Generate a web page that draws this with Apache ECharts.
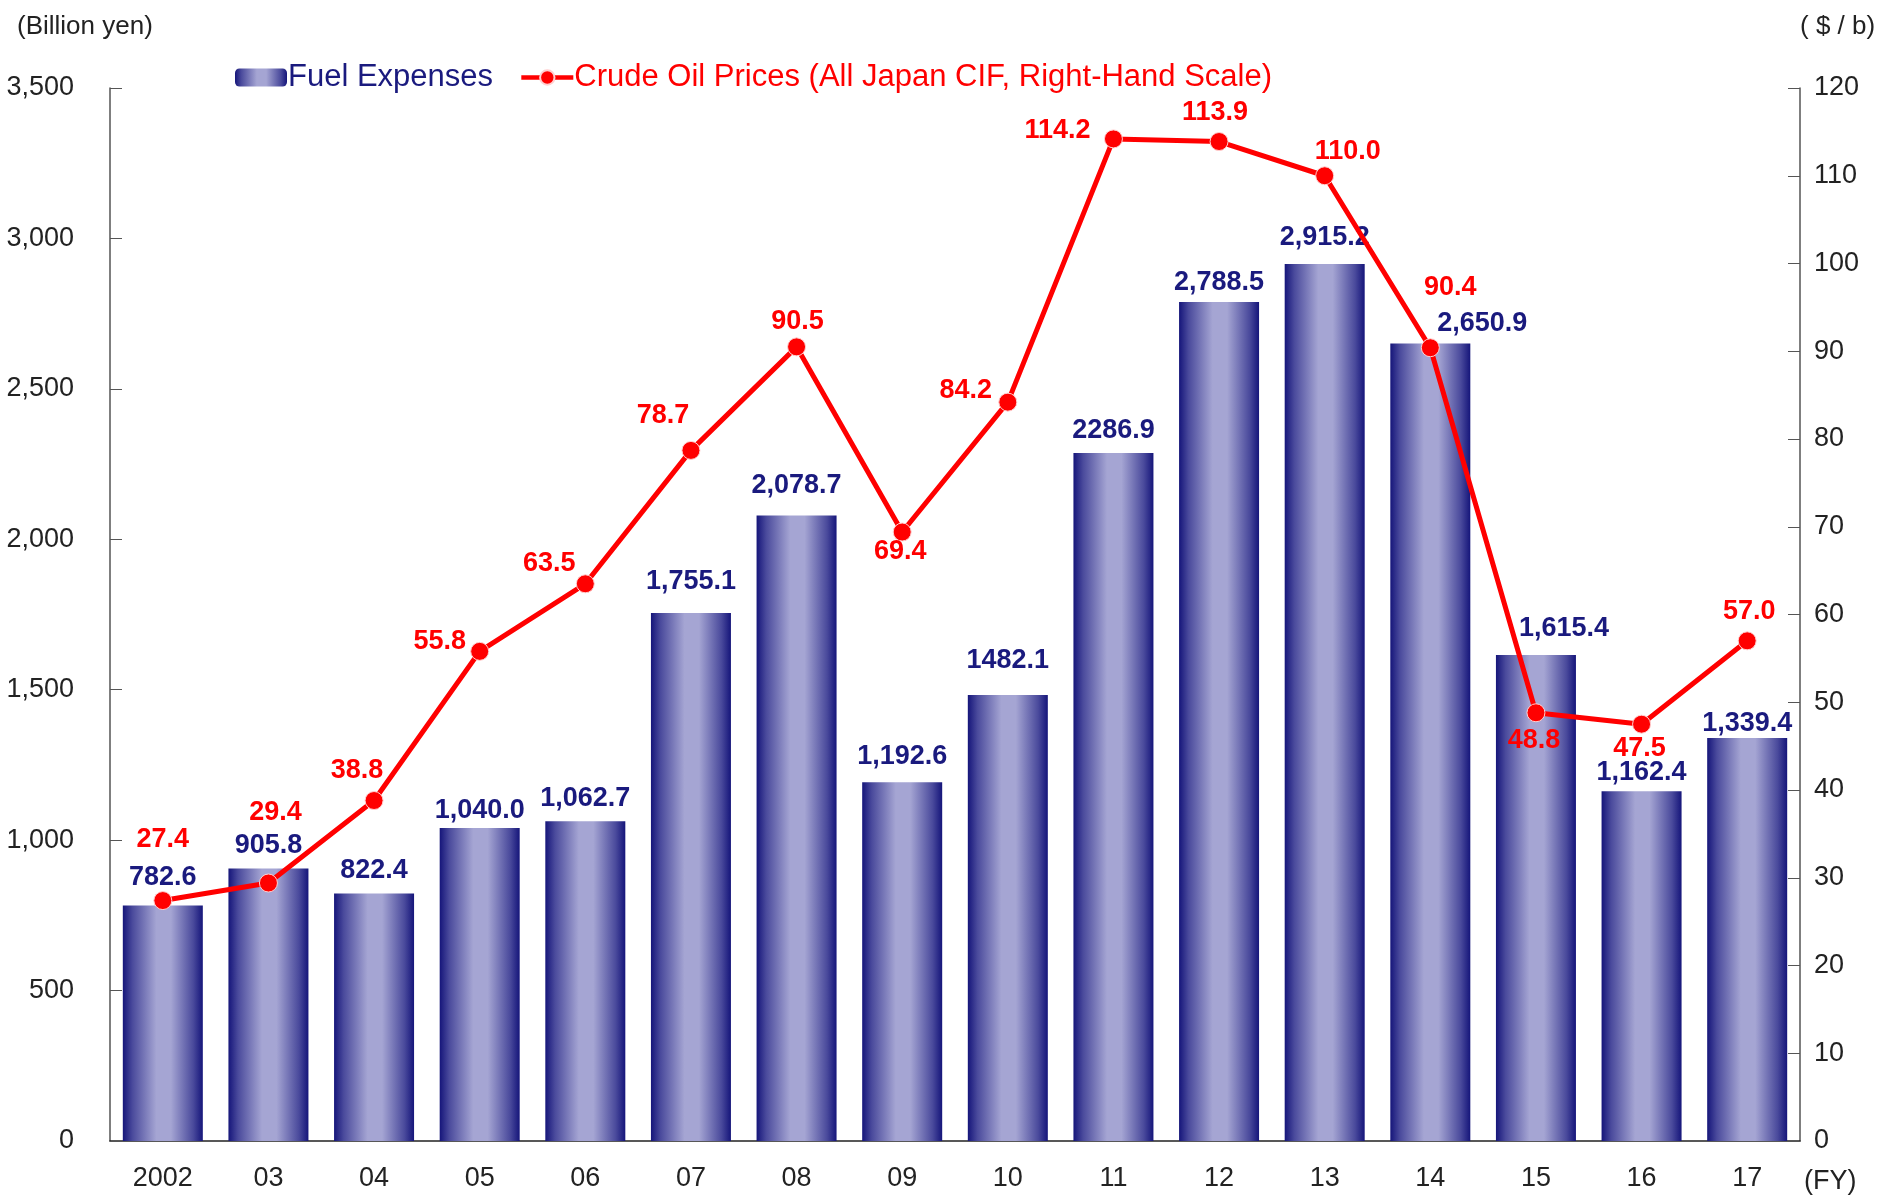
<!DOCTYPE html>
<html>
<head>
<meta charset="utf-8">
<script src="https://cdn.jsdelivr.net/npm/echarts@6/dist/echarts.min.js"></script>
<style>
  html, body { margin: 0; padding: 0; background: #fff; }
  #chartDom { width: 1881px; height: 1198px; }
</style>
</head>
<body>
<div id="chartDom"></div>
<script>
// data
var years = ['2002', '03', '04', '05', '06', '07', '08', '09', '10', '11', '12', '13', '14', '15', '16', '17'];
var fuelExpenses = [782.6, 905.8, 822.4, 1040.0, 1062.7, 1755.1, 2078.7, 1192.6, 1482.1, 2286.9, 2788.5, 2915.2, 2650.9, 1615.4, 1162.4, 1339.4];
var fuelLabels = ['782.6', '905.8', '822.4', '1,040.0', '1,062.7', '1,755.1', '2,078.7', '1,192.6', '1482.1', '2286.9', '2,788.5', '2,915.2', '2,650.9', '1,615.4', '1,162.4', '1,339.4'];
var oilPrices = [27.4, 29.4, 38.8, 55.8, 63.5, 78.7, 90.5, 69.4, 84.2, 114.2, 113.9, 110.0, 90.4, 48.8, 47.5, 57.0];

// label placement (pixels, label centre relative to anchor)
var fuelLabelOffset = [[0, -28], [0, -23], [0, -23], [0, -18], [0, -23], [0, -31], [0, -30], [0, -26],
    [0, -35], [0, -22], [0, -20], [0, -26], [52, -20], [28, -26], [0, -19], [0, -14]];
var oilLabelOffset = [[0, -61], [7, -70], [-17, -30], [-40, -10], [-36, -20], [-28, -35], [1, -25], [-2, 20],
    [-42, -12], [-56, -8], [-4, -29], [23, -24], [20, -60], [-2, 28], [-2, 24], [2, -29]];

var FONT = '"Liberation Sans Narrow", "Arial Narrow", "Liberation Sans", Arial, sans-serif';
var NAVY = '#1a1a7e';

var barColor = new echarts.graphic.LinearGradient(0, 0, 1, 0, [
    { offset: 0, color: '#15157a' },
    { offset: 0.12, color: '#4a4a9c' },
    { offset: 0.42, color: '#a5a5d3' },
    { offset: 0.6, color: '#a5a5d3' },
    { offset: 0.88, color: '#4a4a9c' },
    { offset: 1, color: '#15157a' }
]);

var chartDom = echarts.init(document.getElementById('chartDom'));
chartDom.setOption({
    animation: false,
    textStyle: { fontFamily: FONT },
    grid: { left: 110, right: 81, top: 88, bottom: 57, containLabel: false },
    legend: {
        left: 230,
        top: 57,
        itemWidth: 52,
        itemHeight: 18,
        itemGap: 26,
        textStyle: { fontFamily: FONT, fontSize: 31, padding: [0, 0, 0, -4] },
        data: [
            { name: 'Fuel Expenses', textStyle: { color: NAVY } },
            {
                name: 'Crude Oil Prices (All Japan CIF, Right-Hand Scale)',
                textStyle: { color: '#ff0000' },
                lineStyle: { width: 4.5, color: '#ff0000' },
                itemStyle: { color: '#ff0000' }
            }
        ]
    },
    xAxis: {
        type: 'category',
        data: years,
        name: '(FY)',
        nameLocation: 'end',
        nameGap: 4,
        nameTextStyle: { fontFamily: FONT, fontSize: 27, color: '#222', verticalAlign: 'top', padding: [27, 0, 0, 0] },
        axisLine: { lineStyle: { color: '#222', width: 1.5 } },
        axisTick: { show: false },
        axisLabel: { fontFamily: FONT, fontSize: 27, color: '#222', margin: 24 }
    },
    yAxis: [
        {
            type: 'value',
            min: 0,
            max: 3500,
            interval: 500,
            name: '(Billion yen)',
            nameLocation: 'end',
            nameGap: 48,
            nameTextStyle: { fontFamily: FONT, fontSize: 26, color: '#222', align: 'left', padding: [0, 0, 0, -93] },
            axisLine: { show: true, lineStyle: { color: '#555', width: 1.5 } },
            axisTick: { show: true, inside: true, length: 12, lineStyle: { color: '#555' } },
            splitLine: { show: false },
            axisLabel: {
                fontFamily: FONT, fontSize: 27, color: '#222', margin: 36,
                formatter: function (v) { return v.toLocaleString('en-US'); }
            }
        },
        {
            type: 'value',
            min: 0,
            max: 120,
            interval: 10,
            name: '( $ / b)',
            nameLocation: 'end',
            nameGap: 48,
            nameTextStyle: { fontFamily: FONT, fontSize: 26, color: '#222', align: 'left', padding: [0, 0, 0, 0] },
            axisLine: { show: true, lineStyle: { color: '#555', width: 1.5 } },
            axisTick: { show: true, inside: true, length: 12, lineStyle: { color: '#555' } },
            splitLine: { show: false },
            axisLabel: { fontFamily: FONT, fontSize: 27, color: '#222', margin: 14 }
        }
    ],
    series: [
        {
            name: 'Fuel Expenses',
            type: 'bar',
            yAxisIndex: 0,
            barWidth: 80,
            itemStyle: { color: barColor },
            z: 2,
            data: fuelExpenses.map(function (v, i) {
                return {
                    value: v,
                    label: {
                        show: true,
                        position: 'top',
                        distance: 0,
                        verticalAlign: 'middle',
                        offset: fuelLabelOffset[i],
                        formatter: fuelLabels[i],
                        fontFamily: FONT,
                        fontSize: 27,
                        fontWeight: 'bold',
                        color: NAVY
                    }
                };
            })
        },
        {
            name: 'Crude Oil Prices (All Japan CIF, Right-Hand Scale)',
            type: 'line',
            yAxisIndex: 1,
            symbol: 'circle',
            symbolSize: 18,
            lineStyle: { color: '#ff0000', width: 5 },
            itemStyle: { color: '#ff0000', borderColor: '#ffd0d0', borderWidth: 1 },
            z: 5,
            data: oilPrices.map(function (v, i) {
                return {
                    value: v,
                    label: {
                        show: true,
                        position: 'inside',
                        offset: oilLabelOffset[i],
                        formatter: function (p) { return p.value.toFixed(1); },
                        fontFamily: FONT,
                        fontSize: 27,
                        fontWeight: 'bold',
                        color: '#ff0000'
                    }
                };
            })
        }
    ]
});
</script>
</body>
</html>
